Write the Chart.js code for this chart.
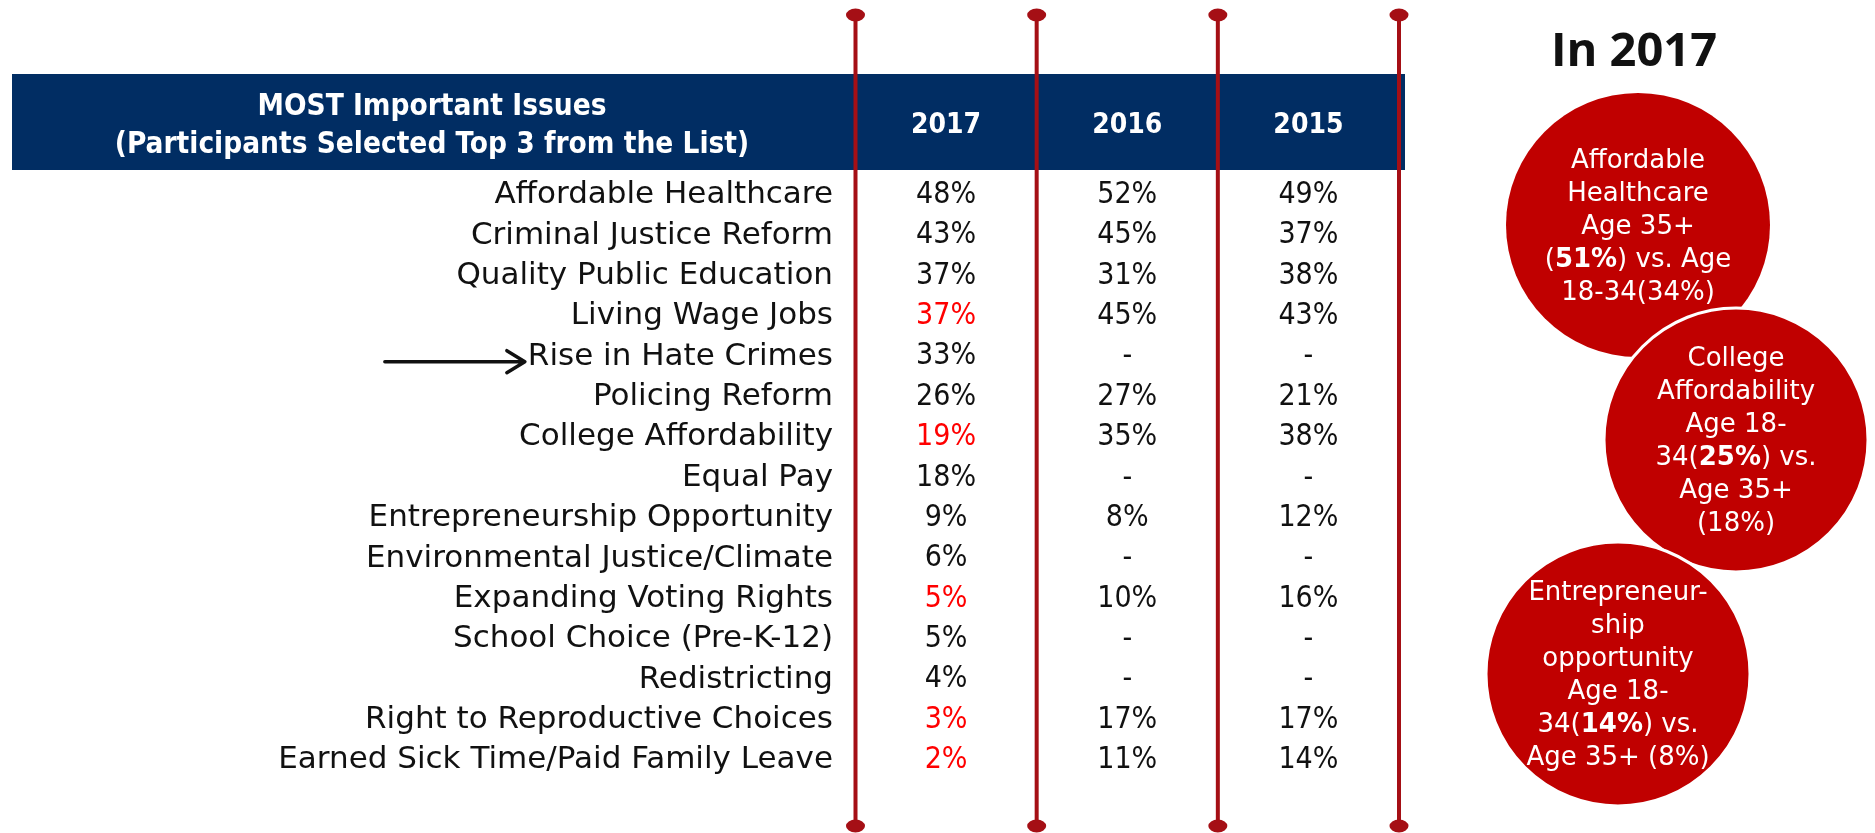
<!DOCTYPE html>
<html>
<head>
<meta charset="utf-8">
<script src="https://cdn.jsdelivr.net/npm/chart.js@4.4.0/dist/chart.umd.min.js"></script>
<style>
  html, body { margin: 0; padding: 0; background: #fff; }
  canvas { display: block; }
</style>
</head>
<body>
<canvas id="issuesChart" width="1875" height="833"></canvas>
<script>
const issues = [
  'Affordable Healthcare',
  'Criminal Justice Reform',
  'Quality Public Education',
  'Living Wage Jobs',
  'Rise in Hate Crimes',
  'Policing Reform',
  'College Affordability',
  'Equal Pay',
  'Entrepreneurship Opportunity',
  'Environmental Justice/Climate',
  'Expanding Voting Rights',
  'School Choice (Pre-K-12)',
  'Redistricting',
  'Right to Reproductive Choices',
  'Earned Sick Time/Paid Family Leave'
];
const years = ['2017', '2016', '2015'];
const pct2017 = [48, 43, 37, 37, 33, 26, 19, 18, 9, 6, 5, 5, 4, 3, 2];
const pct2016 = [52, 45, 31, 45, null, 27, 35, null, 8, null, 10, null, null, 17, 11];
const pct2015 = [49, 37, 38, 43, null, 21, 38, null, 12, null, 16, null, null, 17, 14];
// 2017 values that dropped (shown in red)
const dropped2017 = [3, 6, 10, 13, 14];
const newIssue = 4; // "Rise in Hate Crimes" gets the arrow

const headerLines = ['MOST Important Issues', '(Participants Selected Top 3 from the List)'];
const sideTitle = 'In 2017';
// each note: lines, each line: [text, bold] pieces
const notes = [
  [[['Affordable', 0]], [['Healthcare', 0]], [['Age 35+', 0]],
   [['(', 0], ['51%', 1], [') vs. Age', 0]], [['18-34(34%)', 0]]],
  [[['College', 0]], [['Affordability', 0]], [['Age 18-', 0]],
   [['34(', 0], ['25%', 1], [') vs.', 0]], [['Age 35+', 0]], [['(18%)', 0]]],
  [[['Entrepreneur-', 0]], [['ship', 0]], [['opportunity', 0]], [['Age 18-', 0]],
   [['34(', 0], ['14%', 1], [') vs.', 0]], [['Age 35+ (8%)', 0]]]
];

const NAVY = '#012d63';
const LINE_RED = '#a50f15';
const BUBBLE_RED = '#c00000';
const NARROW = "'DejaVu Sans Condensed', 'Liberation Sans Narrow', 'DejaVu Sans', sans-serif";
const WIDE = "'DejaVu Sans', sans-serif";

const toPoints = (vals, year) => issues.map((iss, i) => ({ x: year, y: iss, v: vals[i] }));

const tablePlugin = {
  id: 'tableDecor',
  beforeDraw(chart) {
    const ctx = chart.ctx;
    ctx.save();
    ctx.fillStyle = NAVY;
    ctx.fillRect(12, 74, 1393, 96);
    ctx.fillStyle = '#fff';
    ctx.font = "bold 29.5px " + NARROW;
    ctx.textAlign = 'center';
    ctx.textBaseline = 'middle';
    ctx.fillText(headerLines[0], 432, 107);
    ctx.fillText(headerLines[1], 432, 145);
    ctx.restore();
  },
  afterDatasetsDraw(chart) {
    const ctx = chart.ctx;
    ctx.save();
    ctx.font = "30px " + NARROW;
    ctx.textAlign = 'center';
    ctx.textBaseline = 'middle';
    chart.data.datasets.forEach((ds, d) => {
      chart.getDatasetMeta(d).data.forEach((pt, i) => {
        const v = ds.data[i].v;
        ctx.fillStyle = (d === 0 && dropped2017.includes(i)) ? '#ff0000' : '#111';
        ctx.fillText(v == null ? '-' : v + '%', pt.x, pt.y);
      });
    });
    ctx.restore();
  },
  afterDraw(chart) {
    const ctx = chart.ctx;
    const xs = chart.scales.x, ys = chart.scales.y;
    ctx.save();
    // red column rules with round ends
    const step = (xs.right - xs.left) / years.length;
    ctx.strokeStyle = LINE_RED;
    ctx.fillStyle = LINE_RED;
    ctx.lineWidth = 4;
    for (let k = 0; k <= years.length; k++) {
      const x = xs.left + k * step;
      ctx.beginPath();
      ctx.moveTo(x, 15);
      ctx.lineTo(x, 826);
      ctx.stroke();
      [15, 826].forEach(y => {
        ctx.beginPath();
        ctx.ellipse(x, y, 9.5, 6.5, 0, 0, Math.PI * 2);
        ctx.fill();
      });
    }
    // arrow to the new issue
    ctx.font = "31px " + WIDE;
    const labelW = ctx.measureText(issues[newIssue]).width;
    const ay = ys.getPixelForValue(newIssue) + 5;
    const tip = ys.right - 22.5 - labelW - 3;
    ctx.strokeStyle = '#111';
    ctx.lineWidth = 3.5;
    ctx.lineCap = 'round';
    ctx.lineJoin = 'round';
    ctx.beginPath();
    ctx.moveTo(tip - 140, ay);
    ctx.lineTo(tip, ay);
    ctx.moveTo(tip - 18, ay - 11);
    ctx.lineTo(tip, ay);
    ctx.lineTo(tip - 18, ay + 11);
    ctx.stroke();

    // side panel
    ctx.fillStyle = '#111';
    ctx.font = "bold 47px 'Open Sans', sans-serif";
    ctx.textAlign = 'center';
    ctx.textBaseline = 'middle';
    ctx.fillText(sideTitle, 1634, 53);

    const bubbles = [[1638, 225], [1736, 440], [1618, 674]];
    bubbles.forEach(([cx, cy], n) => {
      ctx.beginPath();
      ctx.arc(cx, cy, 132, 0, Math.PI * 2);
      ctx.fillStyle = BUBBLE_RED;
      ctx.fill();
      if (n > 0) {
        ctx.strokeStyle = '#fff';
        ctx.lineWidth = 3;
        ctx.stroke();
      }
      const lines = notes[n];
      const lh = 33;
      let y = cy + 2 - (lines.length - 1) * lh / 2;
      ctx.fillStyle = '#fff';
      ctx.textAlign = 'left';
      lines.forEach(parts => {
        let w = 0;
        parts.forEach(([t, b]) => {
          ctx.font = (b ? 'bold ' : '') + "26px " + WIDE;
          w += ctx.measureText(t).width;
        });
        let x = cx - w / 2;
        parts.forEach(([t, b]) => {
          ctx.font = (b ? 'bold ' : '') + "26px " + WIDE;
          ctx.fillText(t, x, y);
          x += ctx.measureText(t).width;
        });
        y += lh;
      });
    });
    ctx.restore();
  }
};

new Chart(document.getElementById('issuesChart'), {
  type: 'line',
  data: {
    datasets: [
      { data: toPoints(pct2017, years[0]) },
      { data: toPoints(pct2016, years[1]) },
      { data: toPoints(pct2015, years[2]) }
    ]
  },
  options: {
    responsive: false,
    animation: false,
    events: [],
    showLine: false,
    elements: { point: { radius: 0, hoverRadius: 0 } },
    layout: { padding: { left: 0, top: 0, right: 476, bottom: 52.4 } },
    plugins: { legend: { display: false }, tooltip: { enabled: false } },
    scales: {
      x: {
        type: 'category',
        labels: years,
        position: 'top',
        offset: true,
        grid: { display: false, drawTicks: false, tickLength: 0 },
        border: { display: false },
        ticks: { color: '#fff', padding: 32.3, font: { family: NARROW, size: 28, weight: 'bold' } },
        afterFit(scale) { scale.height = 175; }
      },
      y: {
        type: 'category',
        labels: issues,
        offset: true,
        grid: { display: false, drawTicks: false, tickLength: 0 },
        border: { display: false },
        ticks: { color: '#111', padding: 22.5, autoSkip: false, font: { family: WIDE, size: 31 } },
        afterFit(scale) { scale.width = 855.5; }
      }
    }
  },
  plugins: [tablePlugin]
});
</script>
</body>
</html>
